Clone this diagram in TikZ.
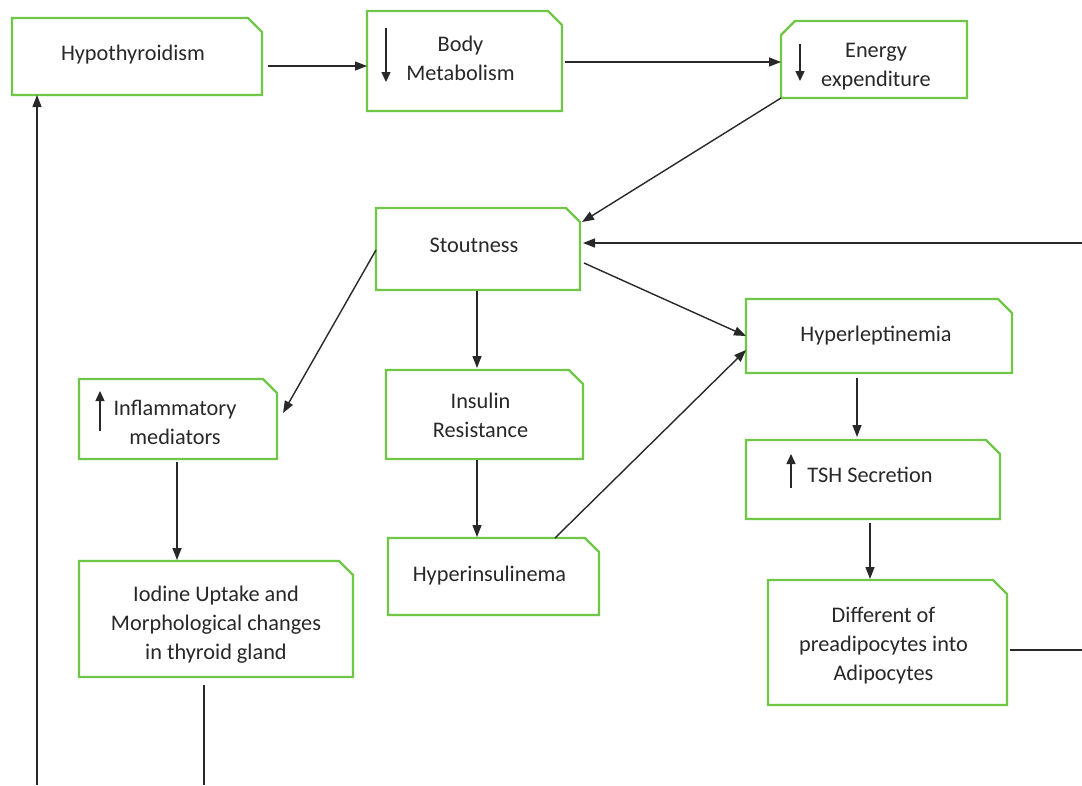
\documentclass[tikz,border=0pt]{standalone}
\usepackage{fontspec}
\setmainfont{Carlito}
\usetikzlibrary{arrows.meta,calc}
\definecolor{gbox}{RGB}{112,198,70}
\definecolor{ink}{RGB}{40,40,40}
\newcommand{\drawNE}[1]{\draw[gline] (#1.south west) -- (#1.north west) -- ($(#1.north east)+(-14,0)$) -- ($(#1.north east)+(0,14)$) -- (#1.south east) -- cycle;}
\newcommand{\drawNW}[1]{\draw[gline] (#1.south west) -- ($(#1.north west)+(0,14)$) -- ($(#1.north west)+(14,0)$) -- (#1.north east) -- (#1.south east) -- cycle;}
\begin{document}
\begin{tikzpicture}[x=1pt,y=-1pt,
  bx/.style={rectangle,inner sep=0pt,outer sep=0pt},
  txt/.style={inner sep=0pt,align=center,text=ink,font=\fontsize{22.3}{29}\selectfont},
  gline/.style={draw=gbox,line width=2.2pt,line join=miter},
  arr/.style={draw=ink,line width=1.4pt,-{Triangle[length=12pt,width=9pt]}},
  ln/.style={draw=ink,line width=1.4pt}]
\useasboundingbox (0,0) rectangle (1082,785);
\fill[white] (0,0) rectangle (1082,785);

\node[bx,minimum width=250,minimum height=77] (hypo) at (137,56.5) {};
\node[bx,minimum width=195,minimum height=100] (body) at (464.5,61) {};
\node[bx,minimum width=186,minimum height=77] (energy) at (874,59.5) {};
\node[bx,minimum width=204,minimum height=82] (stout) at (478,249) {};
\node[bx,minimum width=198,minimum height=80] (infl) at (178,419) {};
\node[bx,minimum width=197,minimum height=89] (insulin) at (484.5,414.5) {};
\node[bx,minimum width=211,minimum height=77] (hyperins) at (493.5,576.5) {};
\node[bx,minimum width=266,minimum height=74] (leptin) at (879,336) {};
\node[bx,minimum width=254,minimum height=79] (tsh) at (873,479.5) {};
\node[bx,minimum width=274,minimum height=116] (iodine) at (216,619) {};
\node[bx,minimum width=239,minimum height=125] (diff) at (887.5,642.5) {};

\drawNE{hypo}
\drawNE{body}
\drawNW{energy}
\drawNE{stout}
\drawNE{infl}
\drawNE{insulin}
\drawNE{hyperins}
\drawNE{leptin}
\drawNE{tsh}
\drawNE{iodine}
\drawNE{diff}

\node[txt] (hypo-t) at ($(hypo)+(-4,-2)$) {Hypothyroidism};
\node[txt] (body-t) at ($(body)+(-4,-3)$) {Body\\Metabolism};
\node[txt] (energy-t) at ($(energy)+(2,7)$) {Energy\\expenditure};
\node[txt] (stout-t) at ($(stout)+(-4,-4)$) {Stoutness};
\node[txt] (infl-t) at ($(infl)+(-3,3)$) {Inflammatory\\mediators};
\node[txt] (insulin-t) at ($(insulin)+(-4,1)$) {Insulin\\Resistance};
\node[txt] (hyperins-t) at ($(hyperins)+(-4,-1)$) {Hyperinsulinema};
\node[txt] (leptin-t) at ($(leptin)+(-3,0)$) {Hyperleptinemia};
\node[txt] (tsh-t) at ($(tsh)+(-3,-5)$) {TSH Secretion};
\node[txt] (iodine-t) at ($(iodine)+(0,6)$) {Iodine Uptake and\\Morphological changes\\in thyroid gland};
\node[txt] (diff-t) at ($(diff)+(-4,3)$) {Different of\\preadipocytes into\\Adipocytes};

% small arrows inside boxes
\draw[arr,-{Triangle[length=10pt,width=9pt]}] (386,28) -- (386,82);
\draw[arr,-{Triangle[length=10pt,width=9pt]}] (800,44) -- (800,81);
\draw[arr,-{Triangle[length=10pt,width=9pt]}] (100,431) -- (100,391);
\draw[arr,-{Triangle[length=10pt,width=9pt]}] (791,488) -- (791,454);

% edge coordinates
\coordinate (r1) at (1082,243);
\coordinate (r2) at (1082,650);
\coordinate (b1) at (204,785);
\coordinate (b2) at (37,785);

% connectors
\draw[arr] ($(hypo.east)+(6,9.5)$) -- ($(body.west)+(0,5)$);
\draw[arr] ($(body.east)+(3,1)$) -- ($(energy.west)+(0,2.5)$);
\draw[arr] (energy.south west) -- ($(stout.east)+(2,-27)$);
\draw[arr] (r1) -- ($(stout.east)+(3,-6)$);
\draw[ln] ($(diff.east)+(3,7.5)$) -- (r2);
\draw[arr] ($(stout.west)+(0,1)$) -- ($(infl.east)+(6,-6)$);
\draw[arr] ($(stout.south)+(-1,1)$) -- ($(insulin.north)+(-7.5,-2)$);
\draw[arr] ($(stout.east)+(4,14)$) -- (leptin.west);
\draw[arr] ($(insulin.south)+(-7.5,1)$) -- ($(hyperins.north)+(-16.5,-1)$);
\draw[arr] ($(hyperins.north)+(61.5,0)$) -- ($(leptin.west)+(0,14)$);
\draw[arr] ($(leptin.south)+(-22,5)$) -- ($(tsh.north)+(-16,-3)$);
\draw[arr] ($(tsh.south)+(-3,4)$) -- ($(diff.north)+(-17.5,-1)$);
\draw[arr] ($(infl.south)+(-1,3)$) -- ($(iodine.north)+(-39,-1)$);
\draw[ln] ($(iodine.south)+(-12,8)$) -- (b1);
\draw[arr] (b2) -- ($(hypo.south)+(-100,0)$);
\end{tikzpicture}
\end{document}
